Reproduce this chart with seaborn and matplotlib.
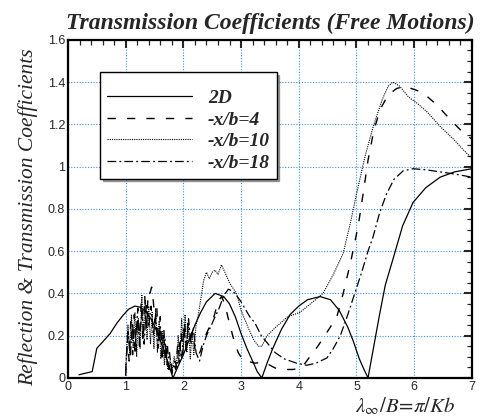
import numpy as np
import pandas as pd
import matplotlib
matplotlib.use("Agg")
import matplotlib.pyplot as plt
from matplotlib.ticker import MultipleLocator
import seaborn as sns

# ---- data ----
x_2d = [0.19, 0.42, 0.50, 0.60, 0.73, 0.85, 0.95, 1.05, 1.16, 1.25, 1.35, 1.45, 1.55, 1.65, 1.75, 1.82,
        1.90, 2.00, 2.10, 2.20, 2.30, 2.40, 2.55, 2.70, 2.80, 2.90, 3.00, 3.10, 3.20, 3.28, 3.36,
        3.45, 3.55, 3.70, 3.85, 4.00, 4.15, 4.37, 4.55, 4.70, 4.85, 4.95, 5.05, 5.13, 5.20,
        5.30, 5.40, 5.50, 5.63, 5.80, 5.98, 6.20, 6.45, 6.70, 7.00]
y_2d = [0.015, 0.03, 0.14, 0.17, 0.21, 0.26, 0.295, 0.325, 0.34, 0.335, 0.315, 0.275, 0.215, 0.14, 0.06, 0.0,
        0.05, 0.11, 0.18, 0.25, 0.31, 0.36, 0.40, 0.385, 0.35, 0.29, 0.21, 0.14, 0.08, 0.03, 0.0,
        0.07, 0.14, 0.23, 0.30, 0.34, 0.37, 0.385, 0.37, 0.32, 0.24, 0.17, 0.09, 0.04, 0.0,
        0.15, 0.30, 0.44, 0.56, 0.72, 0.83, 0.90, 0.95, 0.975, 0.99]

x_b4 = [1.00, 1.03, 1.06, 1.09, 1.12, 1.15, 1.18, 1.21, 1.24, 1.27, 1.30, 1.33, 1.36, 1.39, 1.42, 1.45,
        1.48, 1.51, 1.54, 1.57, 1.60, 1.63, 1.66, 1.69, 1.72, 1.75, 1.78, 1.81, 1.84, 1.87, 1.90,
        1.93, 1.96, 1.99, 2.02, 2.05, 2.08, 2.12, 2.16, 2.20, 2.25, 2.30, 2.35, 2.45, 2.52, 2.60,
        2.66, 2.72, 2.77, 2.86, 2.95, 3.03, 3.24, 3.40, 3.59, 3.76, 3.90, 4.05, 4.19, 4.33, 4.45,
        4.57, 4.66, 4.77, 4.90, 5.03, 5.12, 5.20, 5.30, 5.41, 5.55, 5.70, 5.84, 6.00, 6.15, 6.40,
        6.60, 6.85, 7.00]
y_b4 = [0.01, 0.20, 0.08, 0.27, 0.11, 0.30, 0.13, 0.33, 0.15, 0.36, 0.17, 0.39, 0.22, 0.41, 0.40, 0.43,
        0.36, 0.26, 0.33, 0.16, 0.29, 0.10, 0.24, 0.07, 0.17, 0.04, 0.09, 0.02, 0.06, 0.04, 0.15,
        0.07, 0.22, 0.11, 0.27, 0.15, 0.26, 0.19, 0.22, 0.14, 0.10, 0.13, 0.18, 0.24, 0.28, 0.36,
        0.385, 0.35, 0.29, 0.195, 0.12, 0.085, 0.07, 0.075, 0.047, 0.04, 0.04, 0.047, 0.10, 0.15, 0.20,
        0.25, 0.29, 0.40, 0.55, 0.72, 0.88, 1.03, 1.17, 1.27, 1.34, 1.37, 1.38, 1.365, 1.35, 1.29,
        1.23, 1.16, 1.13]

x_b10 = [1.00, 1.04, 1.07, 1.10, 1.13, 1.16, 1.19, 1.22, 1.25, 1.28, 1.31, 1.34, 1.37, 1.40, 1.43, 1.46,
         1.49, 1.52, 1.55, 1.58, 1.61, 1.64, 1.67, 1.70, 1.73, 1.77, 1.80, 1.84, 1.88, 1.91, 1.94,
         1.97, 2.00, 2.03, 2.06, 2.09, 2.12, 2.15, 2.18, 2.22, 2.26, 2.30, 2.35, 2.40, 2.45, 2.50,
         2.55, 2.60, 2.66, 2.72, 2.80, 2.92, 3.00, 3.12, 3.22, 3.30, 3.36, 3.45, 3.60, 3.81, 4.02,
         4.20, 4.42, 4.60, 4.77, 4.90, 5.00, 5.15, 5.29, 5.45, 5.55, 5.63, 5.75, 5.90, 6.05, 6.22,
         6.45, 6.68, 6.85, 7.00]
y_b10 = [0.05, 0.25, 0.12, 0.30, 0.14, 0.31, 0.10, 0.28, 0.14, 0.39, 0.20, 0.37, 0.18, 0.34, 0.16, 0.31,
         0.14, 0.33, 0.12, 0.27, 0.09, 0.22, 0.06, 0.15, 0.04, 0.08, 0.03, 0.10, 0.06, 0.20, 0.10,
         0.28, 0.14, 0.30, 0.12, 0.26, 0.09, 0.22, 0.11, 0.25, 0.30, 0.37, 0.46, 0.50, 0.47, 0.50,
         0.51, 0.49, 0.535, 0.50, 0.45, 0.40, 0.32, 0.24, 0.18, 0.15, 0.15, 0.20, 0.24, 0.29, 0.31,
         0.35, 0.40, 0.49, 0.59, 0.74, 0.87, 1.05, 1.19, 1.32, 1.38, 1.40, 1.38, 1.33, 1.30, 1.26,
         1.19, 1.13, 1.08, 1.04]

x_b18 = [1.00, 1.04, 1.08, 1.12, 1.16, 1.20, 1.24, 1.28, 1.32, 1.36, 1.40, 1.44, 1.48, 1.52, 1.56, 1.60,
         1.64, 1.68, 1.72, 1.76, 1.80, 1.85, 1.89, 1.93, 1.97, 2.01, 2.05, 2.09, 2.13, 2.17, 2.22,
         2.28, 2.34, 2.40, 2.47, 2.55, 2.62, 2.70, 2.78, 2.86, 2.95, 3.00, 3.15, 3.24, 3.35, 3.47,
         3.59, 3.75, 3.96, 4.14, 4.30, 4.49, 4.60, 4.72, 4.85, 4.97, 5.09, 5.20, 5.29, 5.40, 5.52,
         5.65, 5.81, 5.98, 6.20, 6.45, 6.70, 7.00]
y_b18 = [0.03, 0.22, 0.10, 0.26, 0.12, 0.29, 0.17, 0.32, 0.16, 0.35, 0.24, 0.34, 0.20, 0.30, 0.14, 0.25,
         0.10, 0.19, 0.06, 0.12, 0.02, 0.08, 0.05, 0.17, 0.09, 0.24, 0.13, 0.28, 0.16, 0.24, 0.12,
         0.08, 0.15, 0.20, 0.24, 0.29, 0.33, 0.39, 0.42, 0.41, 0.38, 0.36, 0.29, 0.26, 0.20, 0.16,
         0.12, 0.09, 0.07, 0.06, 0.07, 0.095, 0.14, 0.20, 0.30, 0.40, 0.50, 0.60, 0.67, 0.78, 0.87,
         0.94, 0.98, 0.99, 0.985, 0.975, 0.965, 0.95]

labels = ["2D", "-x/b=4", "-x/b=10", "-x/b=18"]
styles = ["-", (0, (6, 8)), (0, (1, 1)), (0, (7, 2.5, 1.5, 2.5))]
widths = [0.9, 1.0, 0.8, 0.9]

sns.set_style("white")
plt.rcParams["font.family"] = ["Liberation Sans", "DejaVu Sans"]
plt.rcParams["mathtext.fontset"] = "stix"

fig = plt.figure(figsize=(4.82, 4.19), dpi=100)
ax = fig.add_axes([0.141, 0.098, 0.838, 0.807])

series = [(x_2d, y_2d), (x_b4, y_b4), (x_b10, y_b10), (x_b18, y_b18)]
for (xs, ys), lab, ls, lw in zip(series, labels, styles, widths):
    df = pd.DataFrame({"x": xs, "y": ys})
    sns.lineplot(data=df, x="x", y="y", ax=ax, sort=False, estimator=None,
                 color="black", linestyle=ls, linewidth=lw, label=lab)

ax.set_xlim(0, 7)
ax.set_ylim(0, 1.6)
ax.xaxis.set_major_locator(MultipleLocator(1))
ax.xaxis.set_minor_locator(MultipleLocator(0.2))
ax.yaxis.set_major_locator(MultipleLocator(0.2))
ax.yaxis.set_minor_locator(MultipleLocator(0.05))
ax.set_yticks(np.arange(0, 1.61, 0.2))
ax.set_yticklabels(["0", "0.2", "0.4", "0.6", "0.8", "1", "1.2", "1.4", "1.6"])
ax.grid(True, which="major", color="#3d8ff5", linestyle=(0, (1, 1.5)), linewidth=0.8)
ax.tick_params(which="both", direction="in", top=True, right=True, labelsize=9, pad=2)
ax.tick_params(which="major", length=6, width=1.5)
ax.tick_params(which="minor", length=3.5, width=0.9)
for sp in ax.spines.values():
    sp.set_visible(True)
    sp.set_color("black")
    sp.set_linewidth(1.6)

ax.set_xlabel("")
ax.set_ylabel("Reflection & Transmission Coefficients", family="Liberation Serif",
              style="italic", fontsize=15.5)
ax.yaxis.set_label_coords(-0.073, 0.475)
ax.text(0.958, -0.052, r"$\lambda_\infty/B\!=\!\pi/Kb$", transform=ax.transAxes,
        ha="right", va="top", fontsize=15)
ax.set_title("Transmission Coefficients (Free Motions)", family="Liberation Serif",
             style="italic", weight="bold", fontsize=17, pad=8)

leg = ax.legend(loc="upper left", bbox_to_anchor=(0.079, 0.905), borderaxespad=0,
                frameon=True, fancybox=False, shadow=True, edgecolor="black", framealpha=1,
                handlelength=4.4, handletextpad=0.8, labelspacing=0.2, borderpad=0.35,
                title=" ", title_fontsize=6,
                prop={"family": "Liberation Serif", "style": "italic", "weight": "bold", "size": 14})
leg.get_frame().set_linewidth(1.0)

fig.savefig("out.png", dpi=100, facecolor="white")
